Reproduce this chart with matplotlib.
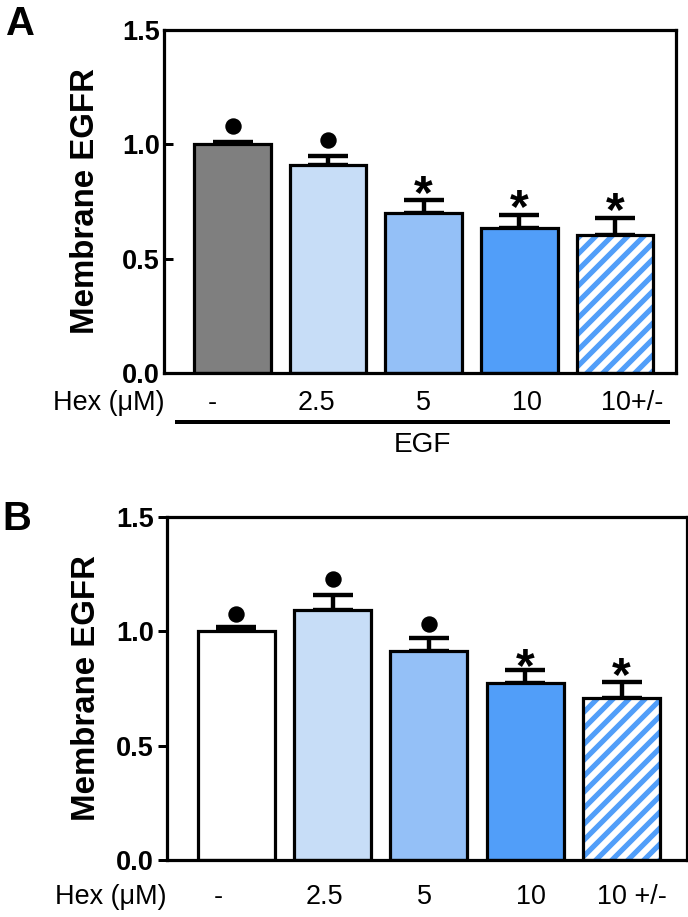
import matplotlib
matplotlib.use("Agg")
import matplotlib.pyplot as plt
import numpy as np

plt.rcParams['font.family'] = ['Liberation Sans', 'DejaVu Sans']
plt.rcParams['hatch.linewidth'] = 2.6

# data
hex_labels_a = ["-", "2.5", "5", "10", "10+/-"]
hex_labels_b = ["-", "2.5", "5", "10", "10 +/-"]

mean_a = [1.00, 0.91, 0.70, 0.635, 0.605]
sem_a = [0.01, 0.04, 0.055, 0.055, 0.072]
dot_bars_a = [0, 1]
dot_y_a = [1.08, 1.02]
star_bars_a = [2, 3, 4]
star_y_a = [0.82, 0.76, 0.745]

mean_b = [1.00, 1.095, 0.915, 0.775, 0.71]
sem_b = [0.02, 0.065, 0.055, 0.055, 0.07]
dot_bars_b = [0, 1, 2]
dot_y_b = [1.076, 1.229, 1.032]
star_bars_b = [3, 4]
star_y_b = [0.883, 0.84]

yticks = [0.0, 0.5, 1.0, 1.5]

# styling
gray = "#7f7f7f"
light = "#c7ddf7"
mid = "#94c0f7"
dark = "#519ef9"
colors_a = [gray, light, mid, dark, "white"]
colors_b = ["white", light, mid, dark, "white"]
label_shift_a = [-0.21, -0.12, 0.0, 0.08, 0.18]
label_shift_b = [-0.19, -0.09, -0.05, 0.06, 0.11]

DPI = 144
STAR_SIZE = 24
fig = plt.figure(figsize=(688 / DPI, 917 / DPI), dpi=DPI)
ax_a = fig.add_axes([0.2384, 0.5932, 0.7442, 0.3740])
ax_b = fig.add_axes([0.2427, 0.0622, 0.7558, 0.3740])


def draw_panel(ax, means, sems, colors, labels, shifts, dot_bars, dot_y,
               star_bars, star_y, xlim, tick_dir, label_y):
    x = np.arange(len(means))
    width = 0.8
    ax.errorbar(x, means, yerr=[np.zeros(len(sems)), sems], fmt="none",
                ecolor="black", elinewidth=2.2, capsize=10, capthick=2.2,
                zorder=1)
    for i in range(len(means)):
        if i == len(means) - 1:
            # hatched bar: white with blue stripes
            ax.bar(x[i], means[i], width, color="white", edgecolor=dark,
                   hatch="///", linewidth=0, zorder=2)
            ax.bar(x[i], means[i], width, fill=False, edgecolor="black",
                   linewidth=1.6, zorder=3)
        else:
            ax.bar(x[i], means[i], width, color=colors[i], edgecolor="black",
                   linewidth=1.6, zorder=2)
    ax.plot(dot_bars, dot_y, "o", color="black", markersize=7.2, zorder=4)
    for b, y in zip(star_bars, star_y):
        ax.annotate("*", (b, y), xytext=(0, -0.47 * STAR_SIZE),
                    textcoords="offset points", ha="center", va="baseline",
                    fontsize=STAR_SIZE, fontweight="bold", zorder=4)
    ax.set_xlim(xlim)
    ax.set_ylim(0, 1.5)
    ax.set_yticks(yticks)
    ax.set_yticklabels(["%.1f" % t for t in yticks], fontsize=13.5,
                       fontweight="bold")
    ax.tick_params(axis="y", direction=tick_dir, length=4.5, width=1.5,
                   pad=2)
    ax.set_xticks([])
    for s in ax.spines.values():
        s.set_linewidth(1.6)
    ax.set_ylabel("Membrane EGFR", fontsize=16.5, fontweight="bold")
    ax.yaxis.set_label_coords(-0.124, 0.5)
    for i, lab in enumerate(labels):
        ax.text(x[i] + shifts[i], label_y, lab, transform=ax.get_xaxis_transform(),
                ha="center", va="center", fontsize=13.5)
    ax.text(0.0, label_y, "Hex (\u03bcM)", transform=ax.transAxes,
            ha="right", va="center", fontsize=13.5)


draw_panel(ax_a, mean_a, sem_a, colors_a, hex_labels_a, label_shift_a,
           dot_bars_a, dot_y_a, star_bars_a, star_y_a, (-0.717, 4.64), "in",
           -0.0875)
draw_panel(ax_b, mean_b, sem_b, colors_b, hex_labels_b, label_shift_b,
           dot_bars_b, dot_y_b, star_bars_b, star_y_b, (-0.722, 4.68), "out",
           -0.108)

# EGF bracket under panel A
ax_a.plot([0.025, 0.984], [-0.143, -0.143], color="black", linewidth=2,
          transform=ax_a.transAxes, clip_on=False)
ax_a.text(0.504, -0.21, "EGF", transform=ax_a.transAxes, ha="center",
          va="center", fontsize=14)

fig.text(20 / 688, 1 - 24 / 917, "A", fontsize=20, fontweight="bold",
         ha="center", va="center")
fig.text(17 / 688, 1 - 519 / 917, "B", fontsize=20, fontweight="bold",
         ha="center", va="center")

fig.savefig("out.png", dpi=DPI)
